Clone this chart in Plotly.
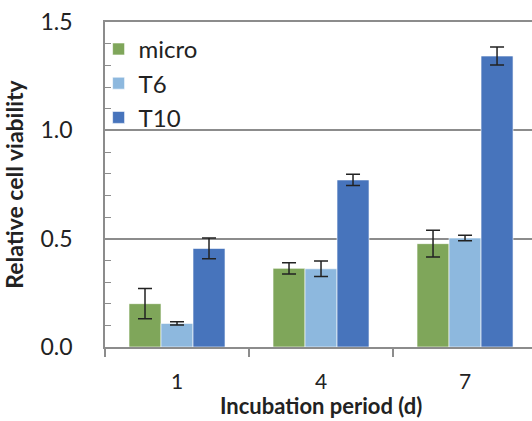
import plotly.graph_objects as go

categories = ["1", "4", "7"]
series_names = ["micro", "T6", "T10"]
micro = [0.20, 0.363, 0.477]
micro_err = [0.07, 0.026, 0.062]
t6 = [0.109, 0.361, 0.503]
t6_err = [0.008, 0.036, 0.013]
t10 = [0.455, 0.771, 1.343]
t10_err = [0.048, 0.026, 0.042]
colors = ["#7FA65A", "#8DB8DE", "#4774BC"]

y_tickvals = [0.0, 0.5, 1.0, 1.5]
y_ticktext = ["0.0", "0.5", "1.0", "1.5"]
x_title = "Incubation period (d)"
y_title = "Relative cell viability"

FONT = "Lato"
W, H = 532, 421
ML, MR, MT, MB = 105, 0, 22, 74
plot_h = H - MT - MB

fig = go.Figure()
for name, vals, errs, col in zip(series_names, [micro, t6, t10], [micro_err, t6_err, t10_err], colors):
    fig.add_trace(go.Bar(
        x=categories, y=vals, name=name,
        marker=dict(color=col, line=dict(color="rgba(255,255,255,0.6)", width=1)),
        error_y=dict(type="data", array=errs, visible=True, color="#222222", thickness=1.5, width=7),
    ))

fig.add_annotation(
    text="<b>" + x_title + "</b>", xref="paper", yref="paper",
    x=(321 - ML) / (W - ML - MR), y=-(MB - 1) / plot_h,
    xanchor="center", yanchor="bottom", showarrow=False, borderpad=0,
    font=dict(family=FONT, size=22, color="#222222"),
)

fig.update_layout(
    width=W, height=H,
    margin=dict(l=ML, r=MR, t=MT, b=MB),
    paper_bgcolor="white", plot_bgcolor="white",
    barmode="group", bargap=1/3, bargroupgap=0,
    font=dict(family=FONT, color="#222222"),
    showlegend=True,
    legend=dict(x=-0.015, y=0.985, xanchor="left", yanchor="top",
                font=dict(family=FONT, size=24, color="#222222"),
                bgcolor="rgba(0,0,0,0)", tracegroupgap=0, itemwidth=30),
    xaxis=dict(
        type="category", range=[-0.5, 2.465], automargin=False,
        showline=True, linecolor="#8C8C8C", linewidth=1.5, mirror=True,
        ticks="outside", tickson="boundaries", ticklen=8, tickcolor="#8C8C8C", tickwidth=1.5,
        tickfont=dict(family=FONT, size=21, color="#222222"),
        ticklabelstandoff=15,
        showgrid=False,
    ),
    yaxis=dict(
        range=[0, 1.5], tickmode="array", tickvals=y_tickvals, ticktext=y_ticktext, automargin=False,
        showline=True, linecolor="#8C8C8C", linewidth=1.5,
        ticks="inside", ticklen=6, tickcolor="#8C8C8C", tickwidth=1,
        minor=dict(ticks="inside", ticklen=6, tickcolor="#8C8C8C", dtick=0.1, tick0=0, showgrid=False),
        showgrid=True, gridcolor="#8C8C8C", gridwidth=1.5,
        tickfont=dict(family=FONT, size=23, color="#222222"),
        ticklabelstandoff=26,
        title=dict(text="<b>" + y_title + "</b>", font=dict(family=FONT, size=23, color="#222222")),
        zeroline=False,
    ),
)

fig.write_html("out.html", config={"displayModeBar": False},
               post_script="document.body.style.margin='0';document.body.style.overflow='hidden';")
